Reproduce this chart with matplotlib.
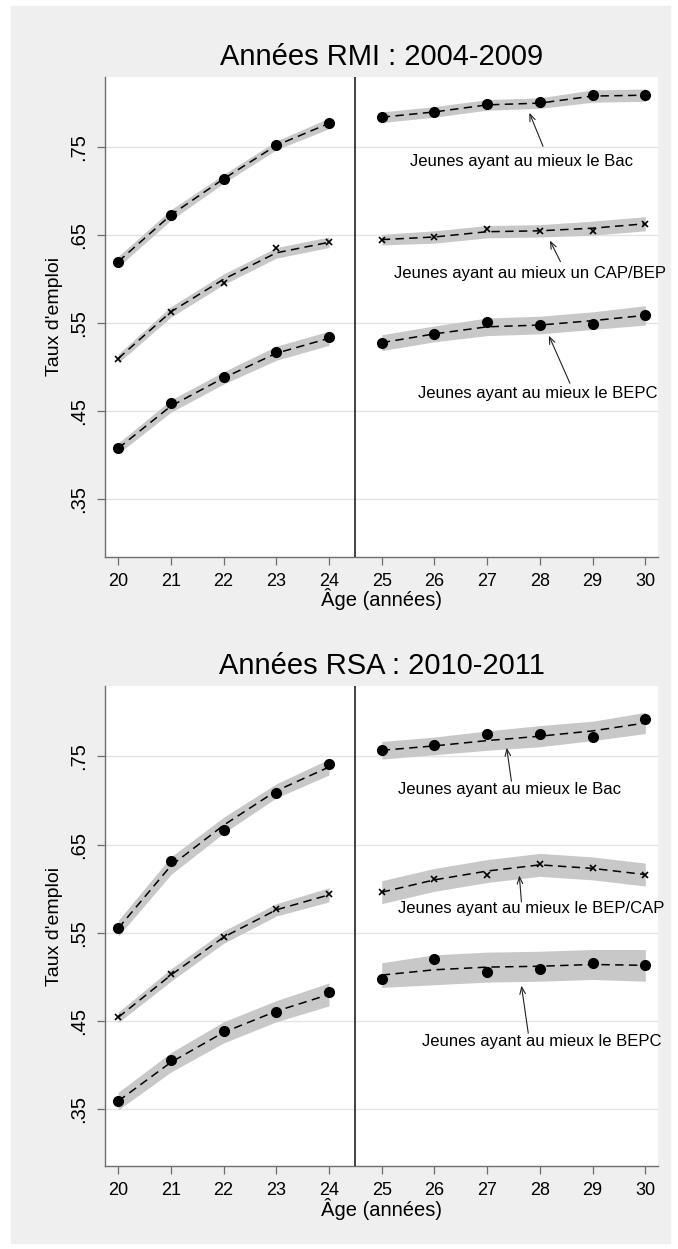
import numpy as np
import matplotlib.pyplot as plt
from matplotlib.patches import Rectangle
from matplotlib.ticker import FixedLocator, FuncFormatter

plt.rcParams['font.family'] = ['Liberation Sans', 'DejaVu Sans']

# âges avant / après 25 ans
ages_avant = [20, 21, 22, 23, 24]
ages_apres = [25, 26, 27, 28, 29, 30]

# Années RMI : 2004-2009 (points observés, courbe lissée, demi-largeur de l'IC)
rmi_bac_obs = [0.620, 0.673, 0.714, 0.753, 0.777, 0.784, 0.790, 0.799, 0.801, 0.809, 0.809]
rmi_bac_fit = [0.620, 0.673, 0.714, 0.752, 0.777, 0.784, 0.790, 0.798, 0.800, 0.808, 0.809]
rmi_bac_ci = [0.006, 0.006, 0.005, 0.005, 0.006, 0.006, 0.006, 0.006, 0.006, 0.007, 0.007]

rmi_cap_obs = [0.510, 0.563, 0.596, 0.635, 0.642, 0.645, 0.648, 0.657, 0.655, 0.655, 0.663]
rmi_cap_fit = [0.510, 0.563, 0.600, 0.630, 0.642, 0.645, 0.648, 0.654, 0.655, 0.658, 0.663]
rmi_cap_ci = [0.005, 0.006, 0.006, 0.006, 0.006, 0.006, 0.007, 0.007, 0.007, 0.008, 0.008]

rmi_bepc_obs = [0.408, 0.459, 0.489, 0.517, 0.535, 0.528, 0.538, 0.551, 0.548, 0.549, 0.559]
rmi_bepc_fit = [0.408, 0.456, 0.488, 0.516, 0.533, 0.528, 0.538, 0.546, 0.548, 0.553, 0.559]
rmi_bepc_ci = [0.006, 0.007, 0.007, 0.008, 0.008, 0.009, 0.009, 0.010, 0.010, 0.010, 0.011]

# Années RSA : 2010-2011
rsa_bac_obs = [0.555, 0.631, 0.667, 0.709, 0.741, 0.757, 0.763, 0.775, 0.775, 0.772, 0.792]
rsa_bac_fit = [0.555, 0.626, 0.672, 0.711, 0.738, 0.757, 0.762, 0.768, 0.773, 0.779, 0.788]
rsa_bac_ci = [0.009, 0.010, 0.009, 0.008, 0.009, 0.010, 0.010, 0.011, 0.012, 0.011, 0.012]

rsa_cap_obs = [0.454, 0.503, 0.545, 0.577, 0.594, 0.596, 0.611, 0.616, 0.628, 0.623, 0.616]
rsa_cap_fit = [0.454, 0.502, 0.545, 0.576, 0.593, 0.596, 0.610, 0.620, 0.627, 0.623, 0.616]
rsa_cap_ci = [0.006, 0.007, 0.007, 0.007, 0.008, 0.013, 0.013, 0.013, 0.013, 0.013, 0.013]

rsa_bepc_obs = [0.359, 0.406, 0.439, 0.460, 0.483, 0.498, 0.520, 0.505, 0.509, 0.516, 0.513]
rsa_bepc_fit = [0.359, 0.403, 0.437, 0.461, 0.480, 0.502, 0.508, 0.511, 0.512, 0.514, 0.513]
rsa_bepc_ci = [0.010, 0.011, 0.012, 0.012, 0.013, 0.014, 0.017, 0.017, 0.017, 0.017, 0.018]

yticks = [0.35, 0.45, 0.55, 0.65, 0.75]
xticks = ages_avant + ages_apres

GRIS_FOND = '#efefef'
GRIS_IC = '#c8c8c8'


def draw_serie(ax, obs, fit, ci, marker):
    n = len(ages_avant)
    for xs, sl in [(ages_avant, slice(0, n)), (ages_apres, slice(n, None))]:
        f = np.array(fit[sl])
        c = np.array(ci[sl])
        ax.fill_between(xs, f - c, f + c, color=GRIS_IC, lw=0, zorder=2)
        ax.plot(xs, f, color='black', lw=1.1, dashes=(5.5, 3.5), zorder=3)
    if marker == 'o':
        ax.plot(xticks, obs, 'o', color='black', ms=7, zorder=4)
    else:
        ax.plot(xticks, obs, 'x', color='black', ms=4.5, mew=1.2, zorder=4)


def draw_panel(ax, titre, series, notes):
    ax.set_facecolor('white')
    for obs, fit, ci, mk in series:
        draw_serie(ax, obs, fit, ci, mk)
    ax.axvline(24.5, color='#333333', lw=1.3, zorder=5)

    for txt, (tx, ty), (x0, y0), (x1, y1) in notes:
        ax.text(tx, ty, txt, ha='center', va='center', fontsize=12, zorder=6)
        ax.annotate('', xy=(x1, y1), xytext=(x0, y0),
                    arrowprops=dict(arrowstyle='->,head_length=0.5,head_width=0.2',
                                    color='#222222', lw=0.8, shrinkA=0, shrinkB=0),
                    zorder=6)

    ax.set_xlim(19.75, 30.25)
    ax.set_ylim(0.285, 0.830)
    ax.yaxis.set_major_locator(FixedLocator(yticks))
    ax.yaxis.set_major_formatter(FuncFormatter(lambda v, p: f'{v:.2f}'.lstrip('0')))
    ax.set_xticks(xticks)
    ax.grid(axis='y', color='#e4e4e4', lw=1.0, zorder=0)
    ax.set_axisbelow(True)
    for s in ['top', 'right']:
        ax.spines[s].set_visible(False)
    for s in ['left', 'bottom']:
        ax.spines[s].set_color('#6e6e6e')
        ax.spines[s].set_linewidth(1.0)
    ax.tick_params(axis='both', direction='out', length=6, width=0.9, color='#6e6e6e')
    ax.tick_params(axis='y', labelsize=14.5, pad=6.5, labelrotation=90)
    ax.tick_params(axis='x', labelsize=13, pad=5.5)
    for lab in ax.get_yticklabels():
        lab.set_va('center')
    for lab in ax.get_xticklabels():
        lab.set_family(['Liberation Sans Narrow', 'Liberation Sans'])
    ax.set_ylabel("Taux d'emploi", fontsize=14, labelpad=4)
    ax.set_xlabel('Âge (années)', fontsize=14.5, labelpad=-1)
    ax.set_title(titre, fontsize=21, pad=8.4)


fig = plt.figure(figsize=(6.78, 12.49), dpi=100, facecolor='white')
fond = Rectangle((11 / 678, 1 - 1243 / 1249), 659 / 678, 1237 / 1249,
                 transform=fig.transFigure, color=GRIS_FOND, zorder=-10)
fig.add_artist(fond)

ax1 = fig.add_axes([0.1549, 0.5543, 0.8163, 0.3843])
ax2 = fig.add_axes([0.1549, 0.0662, 0.8163, 0.3846])

draw_panel(ax1, 'Années RMI : 2004-2009',
           [(rmi_bac_obs, rmi_bac_fit, rmi_bac_ci, 'o'),
            (rmi_cap_obs, rmi_cap_fit, rmi_cap_ci, 'x'),
            (rmi_bepc_obs, rmi_bepc_fit, rmi_bepc_ci, 'o')],
           [('Jeunes ayant au mieux le Bac', (27.65, 0.734), (28.06, 0.751), (27.80, 0.789)),
            ('Jeunes ayant au mieux un CAP/BEP', (27.81, 0.607), (28.39, 0.620), (28.19, 0.644)),
            ('Jeunes ayant au mieux le BEPC', (27.96, 0.470), (28.57, 0.482), (28.17, 0.536))])

draw_panel(ax2, 'Années RSA : 2010-2011',
           [(rsa_bac_obs, rsa_bac_fit, rsa_bac_ci, 'o'),
            (rsa_cap_obs, rsa_cap_fit, rsa_cap_ci, 'x'),
            (rsa_bepc_obs, rsa_bepc_fit, rsa_bepc_ci, 'o')],
           [('Jeunes ayant au mieux le Bac', (27.43, 0.713), (27.46, 0.722), (27.37, 0.760)),
            ('Jeunes ayant au mieux le BEP/CAP', (27.84, 0.577), (27.65, 0.585), (27.61, 0.615)),
            ('Jeunes ayant au mieux le BEPC', (28.03, 0.427), (27.78, 0.436), (27.65, 0.490))])

fig.savefig('out.png', dpi=100, facecolor=fig.get_facecolor())
